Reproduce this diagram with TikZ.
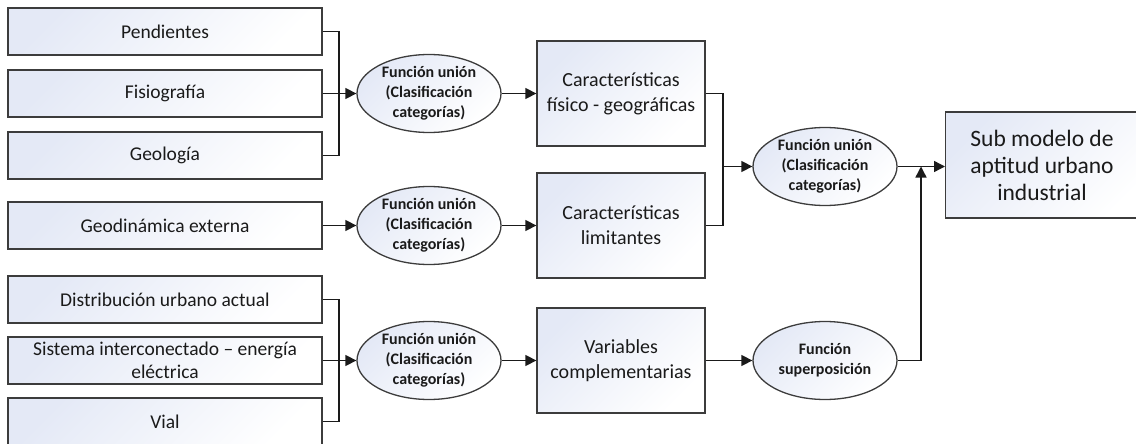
\documentclass[tikz,border=0pt]{standalone}
\usepackage{fontspec}
\setmainfont{Carlito}
\usetikzlibrary{shapes.geometric,arrows.meta}

\definecolor{edge}{HTML}{3C3C3C}
\definecolor{wire}{HTML}{1A1A1A}
\definecolor{tint}{HTML}{E4E9F6}
\definecolor{ink}{HTML}{1A1A1A}

\tikzset{
  shaded/.style={draw=edge, line width=1.3pt, shading=axis, top color=tint,
    bottom color=white, shading angle=45, text=ink, align=center, inner sep=0pt},
  inbox/.style={shaded, rectangle, minimum width=314pt, minimum height=47pt,
    font=\fontsize{19.5}{23}\selectfont},
  midbox/.style={shaded, rectangle, minimum width=168pt, minimum height=105pt,
    font=\fontsize{20}{25}\selectfont},
  outbox/.style={shaded, rectangle, minimum width=206pt, minimum height=106pt,
    font=\fontsize{23.5}{27}\selectfont},
  oper/.style={shaded, ellipse, minimum width=144pt, minimum height=78pt,
    font=\fontsize{16}{20}\selectfont\bfseries},
  link/.style={draw=wire, line width=1.4pt},
  flow/.style={link, -{Triangle[length=11pt,width=11pt]}},
}

\begin{document}
\begin{tikzpicture}[x=1pt,y=-1pt]
  \useasboundingbox (0,0) rectangle (1136,444);
  \clip (0,0) rectangle (1136,444);

  % input layers
  \node[inbox] (pend)  at (165,31.5)  {Pendientes};
  \node[inbox] (fisio) at (165,93.5)  {Fisiografía};
  \node[inbox] (geol)  at (165,155.5) {Geología};
  \node[inbox] (geodin) at (165,225.5) {Geodinámica externa};
  \node[inbox] (distr) at (165,299.5) {Distribución urbano actual};
  \node[inbox] (sist)  at (165,360.5) {Sistema interconectado – energía\\eléctrica};
  \node[inbox] (vial)  at (165,421.5) {Vial};

  % first operations
  \node[oper] (u1) at (429,93.5)  {Función unión\\(Clasificación\\categorías)};
  \node[oper] (u2) at (429,225.5) {Función unión\\(Clasificación\\categorías)};
  \node[oper] (u3) at (429,360.5) {Función unión\\(Clasificación\\categorías)};

  % intermediate results
  \node[midbox] (fis)  at (621,93.5)  {Características\\físico - geográficas};
  \node[midbox] (lim)  at (621,225.5) {Características\\limitantes};
  \node[midbox] (comp) at (621,360.5) {Variables\\complementarias};

  % second operations
  \node[oper] (u4) at (825,166.5) {Función unión\\(Clasificación\\categorías)};
  \node[oper] (sup) at (825,360.5) {Función\\superposición};

  % final model (runs past the right edge)
  \node[outbox, anchor=west] (model) at (945,165) {};
  \node[font=\fontsize{23.5}{27}\selectfont, text=ink, align=center] (modeltxt)
    at (1042,165) {Sub modelo de\\aptitud urbano\\industrial};

  % junction points
  \coordinate (j1) at (339,93.5);
  \coordinate (j3) at (339,360.5);
  \coordinate (j4) at (723,166.5);
  \coordinate (j5) at (921,166.5);

  % physical-geographic group
  \draw[link] (pend.east) -| (j1);
  \draw[link] (geol.east) -| (j1);
  \draw[flow] (fisio.east) -- (u1.west);
  \draw[flow] (u1.east) -- (fis.west);

  % limiting factors
  \draw[flow] (geodin.east) -- (u2.west);
  \draw[flow] (u2.east) -- (lim.west);

  % complementary variables
  \draw[link] (distr.east) -| (j3);
  \draw[link] (vial.east) -| (j3);
  \draw[flow] (sist.east) -- (u3.west);
  \draw[flow] (u3.east) -- (comp.west);

  % merge of characteristics
  \draw[link] (fis.east) -| (j4);
  \draw[link] (lim.east) -| (j4);
  \draw[flow] (j4) -- (u4.west);
  \draw[flow] (u4.east) -- (u4.east -| model.west);

  % overlay branch
  \draw[flow] (comp.east) -- (sup.west);
  \draw[flow] (sup.east) -| (j5);
\end{tikzpicture}
\end{document}
